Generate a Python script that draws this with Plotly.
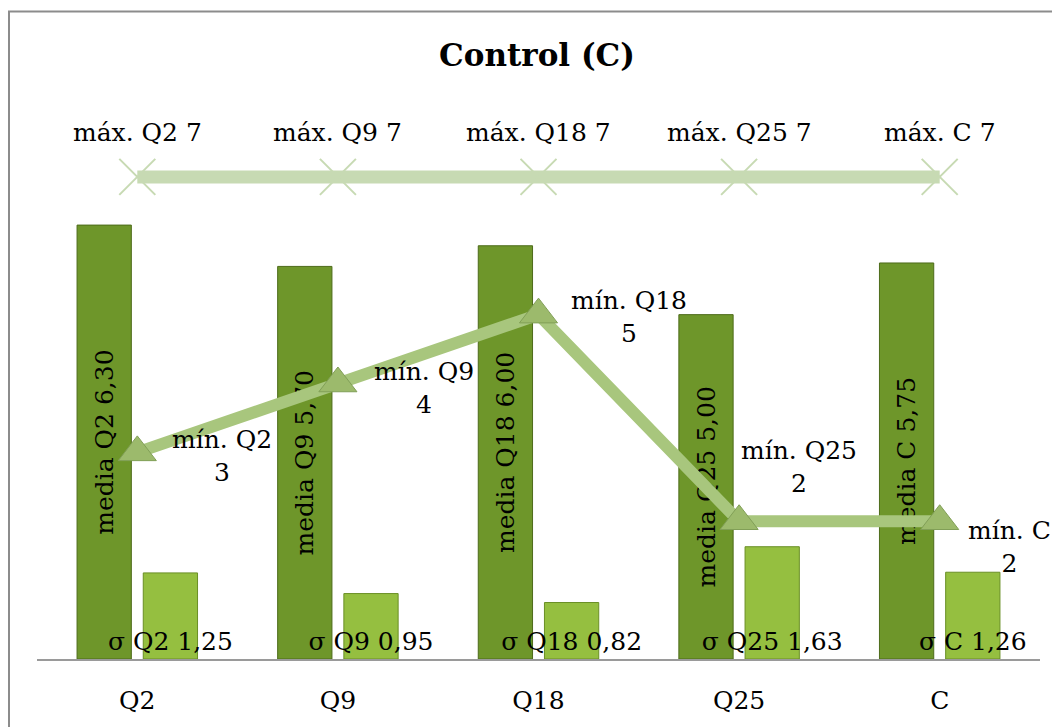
import plotly.graph_objects as go

categories = ["Q2", "Q9", "Q18", "Q25", "C"]
media = [6.30, 5.70, 6.00, 5.00, 5.75]
sigma = [1.25, 0.95, 0.82, 1.63, 1.26]
maximo = [7, 7, 7, 7, 7]
minimo = [3, 4, 5, 2, 2]

FONT = "DejaVu Serif"
FS = 25


def fmt(v):
    return f"{v:.2f}".replace(".", ",")


media_text = [f"media {c} {fmt(v)}" for c, v in zip(categories, media)]
sigma_text = [f"σ {c} {fmt(v)}" for c, v in zip(categories, sigma)]
max_text = [f"máx. {c} {v}" for c, v in zip(categories, maximo)]
min_text = [f"mín. {c}<br>{v}" for c, v in zip(categories, minimo)]

# label offsets (pixels) for the min labels: (xshift, yshift, xanchor)
min_offsets = [(33, -4, "left"), (34, -4, "left"), (30, -2, "left"),
               (0, 54, "left"), (26, -26, "left")]

# page has an 8px body margin; figure placed accordingly
W, H = 1052, 719
L, T = 29, 100
PLOT_W = 1040 - 37
PLOT_H = 662 - 108

fig = go.Figure()

fig.add_trace(go.Bar(
    x=categories, y=media, name="media",
    marker=dict(color="#6e962a", line=dict(color="#4d6b1a", width=1)),
    text=media_text, textposition="inside", insidetextanchor="middle",
    textangle=-90, constraintext="none",
    textfont=dict(family=FONT, size=FS, color="black"),
    hoverinfo="skip",
))
fig.add_trace(go.Bar(
    x=categories, y=sigma, name="σ",
    marker=dict(color="#95bf40", line=dict(color="#6a8f25", width=1)),
    text=sigma_text, textposition="inside", insidetextanchor="start",
    textangle=0, constraintext="none",
    textfont=dict(family=FONT, size=FS, color="black"),
    hoverinfo="skip",
))
fig.add_trace(go.Scatter(
    x=categories, y=maximo, name="máx.", mode="lines+markers",
    line=dict(color="#c7dab3", width=13),
    marker=dict(symbol="x-thin", size=36, line=dict(color="#c7dab3", width=2)),
    hoverinfo="skip",
))
fig.add_trace(go.Scatter(
    x=categories, y=minimo, name="mín.", mode="lines+markers",
    line=dict(color="#a8c67d", width=12),
    marker=dict(symbol="triangle-up", size=33, color="#9cba6c",
                line=dict(color="#819f57", width=1)),
    hoverinfo="skip",
))

annotations = []
for c, v, t in zip(categories, maximo, max_text):
    annotations.append(dict(x=c, y=v, text=t, showarrow=False, xanchor="center",
                            yanchor="bottom", yshift=28,
                            font=dict(family=FONT, size=FS, color="black")))
for c, v, t, (xs, ys, xa) in zip(categories, minimo, min_text, min_offsets):
    annotations.append(dict(x=c, y=v, text=t, showarrow=False, xanchor=xa,
                            yanchor="middle", xshift=xs, yshift=ys, align="center",
                            font=dict(family=FONT, size=FS, color="black")))

fig.update_layout(
    width=W, height=H,
    margin=dict(l=L, r=W - L - PLOT_W, t=T, b=H - T - PLOT_H),
    paper_bgcolor="white", plot_bgcolor="white",
    barmode="group", bargap=0.34, bargroupgap=0.18,
    showlegend=False,
    uniformtext=dict(mode="show", minsize=FS),
    title=dict(text="<b>Control (C)</b>", x=529 / W, xanchor="center",
               y=1 - 47 / H, yanchor="middle", yref="container",
               font=dict(family=FONT, size=31, color="black")),
    xaxis=dict(range=[-0.5, len(categories) - 0.5], autorange=False,
               showline=True, linecolor="#9a9a9a", linewidth=2, ticks="",
               showgrid=False, zeroline=False, ticklabelstandoff=18,
               tickfont=dict(family=FONT, size=FS, color="black")),
    yaxis=dict(range=[0, 8], visible=False, showgrid=False, zeroline=False),
    annotations=annotations,
    shapes=[dict(type="rect", xref="paper", yref="paper",
                 x0=(1 - L) / PLOT_W, x1=(W + 20 - L) / PLOT_W,
                 y0=(T + PLOT_H - (H + 20)) / PLOT_H, y1=(T + PLOT_H - 3) / PLOT_H,
                 line=dict(color="#8c8c8c", width=2), fillcolor="rgba(0,0,0,0)",
                 layer="below")],
)

fig.write_html("out.html")
